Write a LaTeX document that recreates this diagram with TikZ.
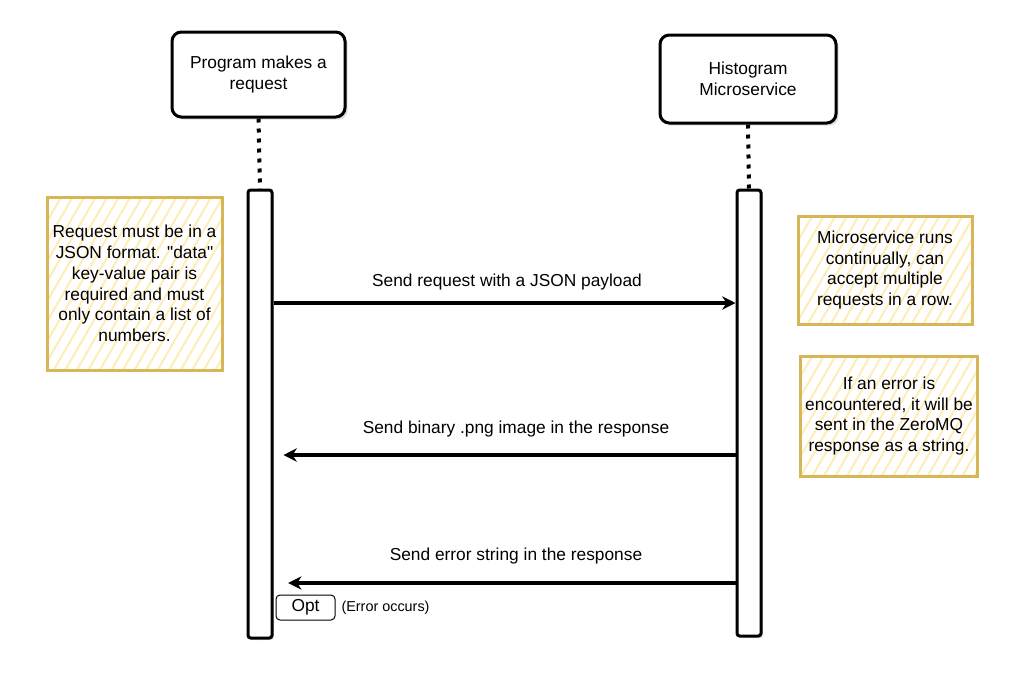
\documentclass[tikz,border=0pt]{standalone}
\usepackage{fontspec}
\setmainfont{Liberation Sans}
\newfontfamily\seqfamily{Liberation Sans}
\usepackage{tikz}
\usepackage{xcolor}
\usetikzlibrary{arrows.meta, patterns.meta, shadows, positioning}

\definecolor{notegold}{HTML}{D6B656}
\definecolor{notehatch}{HTML}{FFEDB8}
\newcommand{\seqfont}{\seqfamily\fontsize{13}{15.6}\selectfont}
\newcommand{\seqsmall}{\seqfamily\fontsize{10.8}{13}\selectfont}

\begin{document}
\begin{tikzpicture}[x=0.75pt, y=-0.75pt,
    actor/.style={draw, line width=2.25pt, rounded corners=7pt, fill=white, align=center, font=\seqfont,
        drop shadow={shadow xshift=2pt, shadow yshift=-2pt, opacity=0.25}},
    actbar/.style={draw, line width=2.25pt, rounded corners=2pt, fill=white, minimum width=18pt,
        drop shadow={shadow xshift=1.5pt, shadow yshift=-1.5pt, opacity=0.2}},
    lifeline/.style={line width=3pt, dash pattern=on 3pt off 4.5pt},
    note/.style={draw=notegold, line width=2.25pt, align=center, font=\seqfont,
        pattern={Lines[angle=60, distance=7.5pt, line width=1.5pt]}, pattern color=notehatch},
    msg/.style={line width=2.4pt, -{Stealth[length=10pt, width=10pt]}},
    msglabel/.style={font=\seqfont}]
    \fill[white] (0,0) rectangle (1036,683);
    \useasboundingbox (0,0) rectangle (1036,683);

    % Participants
    \node[actor, minimum width=129.75pt, minimum height=63.75pt] (prog) at (258.5,74.5) {Program makes a\\request};
    \node[actor, minimum width=132pt, minimum height=66pt] (hist) at (748,79) {Histogram\\Microservice};

    % Activation bars
    \node[actbar, minimum height=336pt] (progbar) at (260,414) {};
    \node[actbar, minimum height=334.5pt] (histbar) at (749,413) {};

    % Lifelines
    \draw[lifeline] (prog.south) -- (progbar.north);
    \draw[lifeline] (hist.south) -- (histbar.north);

    % Notes
    \node[note, minimum width=131.25pt, minimum height=129.75pt] (reqnote) at (134.5,283.5) {Request must be in a\\JSON format. "data"\\key-value pair is\\required and must\\only contain a list of\\numbers.};
    \node[note, minimum width=130.5pt, minimum height=81pt] (runnote) at (885,270) {Microservice runs\\continually, can\\accept multiple\\requests in a row.};
    \node[note, minimum width=130.5pt, minimum height=90pt] (errnote) at (889,416) {If an error is\\encountered, it will be\\sent in the ZeroMQ\\response as a string.};

    % Messages
    \coordinate (req) at (0,303);
    \coordinate (png) at (0,455);
    \coordinate (err) at (0,583);
    \draw[msg] (progbar.east |- req) -- (histbar.west |- req);
    \draw[msg, shorten >=7.5pt] (histbar.west |- png) -- (progbar.east |- png);
    \draw[msg, shorten >=11pt] (histbar.west |- err) -- (progbar.east |- err);
    \node[msglabel] (reqlabel) at (507,282) {Send request with a JSON payload};
    \node[msglabel] (pnglabel) at (516,429) {Send binary .png image in the response};
    \node[msglabel] (errlabel) at (516,556) {Send error string in the response};

    % Optional fragment
    \node[draw, line width=0.75pt, rounded corners=3pt, minimum width=44.25pt, minimum height=18.75pt, font=\seqfont] (opt) at (305.5,607.5) {Opt};
    \node[right=1pt of opt, font=\seqsmall] (optcond) {(Error occurs)};
\end{tikzpicture}
\end{document}
